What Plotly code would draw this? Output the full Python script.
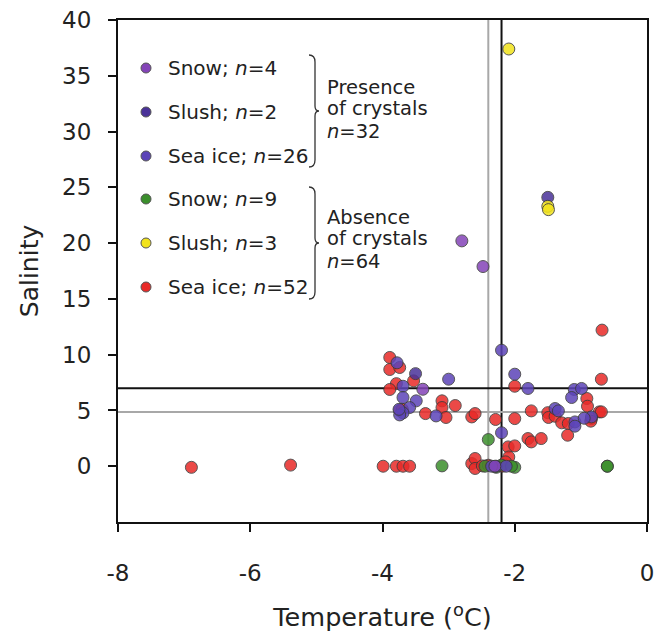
import plotly.graph_objects as go

# ---------------- data ----------------
snow_pres_x = [-2.80, -2.48, -3.39, -2.30]
snow_pres_y = [20.2, 17.9, 6.9, 0.0]

slush_pres_x = [-1.50, -3.50]
slush_pres_y = [24.1, 8.3]

seaice_pres_x = [-2.20, -2.00, -3.78, -3.00, -3.69, -3.69, -3.49, -3.59, -3.69, -3.19,
                 -1.80, -1.10, -0.99, -1.14, -1.39, -1.34, -1.09, -1.09, -0.84, -2.20,
                 -2.28, -2.13, -3.74, -2.35, -3.75, -0.95]
seaice_pres_y = [10.4, 8.25, 9.27, 7.8, 7.17, 6.16, 5.86, 5.26, 4.78, 4.51,
                 6.97, 6.88, 6.97, 6.16, 5.17, 4.96, 3.97, 3.59, 4.42, 3.0,
                 0.0, 0.0, 4.6, 0.0, 5.1, 4.3]

snow_abs_x = [-2.40, -3.10, -2.28, -2.00, -0.60, -0.60, -2.45, -2.20, -2.05]
snow_abs_y = [2.39, 0.03, -0.1, -0.1, 0.0, 0.0, 0.0, 0.1, 0.0]

slush_abs_x = [-2.09, -1.50, -1.49]
slush_abs_y = [37.4, 23.3, 23.0]

seaice_abs_x = [-0.68, -0.69, -3.89, -3.89, -3.74, -3.79, -3.89, -3.53, -3.74, -3.70,
                -3.35, -3.10, -3.10, -2.90, -3.04, -2.65, -2.60, -2.29, -2.00, -2.00,
                -1.75, -1.50, -1.49, -1.39, -1.29, -1.19, -1.20, -0.91, -0.90, -0.84,
                -0.85, -0.72, -0.69, -1.80, -1.75, -1.60, -2.10, -2.00, -2.09, -2.14,
                -3.99, -3.79, -3.69, -3.59, -2.65, -2.60, -2.60, -2.49, -2.40, -2.19,
                -6.89, -5.39]
seaice_abs_y = [12.2, 7.8, 9.75, 8.67, 8.85, 7.4, 6.88, 7.65, 5.0, 5.1,
                4.72, 5.86, 5.26, 5.44, 4.37, 4.42, 4.72, 4.19, 7.17, 4.27,
                4.96, 4.8, 4.37, 4.48, 3.89, 3.83, 2.78, 6.07, 5.38, 4.27,
                4.04, 4.87, 4.87, 2.48, 2.18, 2.48, 1.73, 1.82, 0.83, 0.39,
                0.0, 0.0, 0.0, 0.0, 0.24, 0.69, -0.2, 0.03, 0.09, 0.0,
                -0.1, 0.1]

threshold_temp_black = -2.2
threshold_temp_gray = -2.4
threshold_sal_black = 7.0
threshold_sal_gray = 4.85

legend_labels = ["Snow; <i>n</i>=4", "Slush; <i>n</i>=2", "Sea ice; <i>n</i>=26",
                 "Snow; <i>n</i>=9", "Slush; <i>n</i>=3", "Sea ice; <i>n</i>=52"]
group_labels = [["Presence", "of crystals", "<i>n</i>=32"],
                ["Absence", "of crystals", "<i>n</i>=64"]]

x_ticks = [-8, -6, -4, -2, 0]
x_tick_text = ["-8", "-6", "-4", "-2", "0"]
y_ticks = [0, 5, 10, 15, 20, 25, 30, 35, 40]

# ---------------- styling ----------------
colors = ["#8444b8", "#4a3299", "#5c44b8", "#3b8f2c", "#f2e31c", "#e82a28"]
series = [(snow_pres_x, snow_pres_y), (slush_pres_x, slush_pres_y),
          (seaice_pres_x, seaice_pres_y), (snow_abs_x, snow_abs_y),
          (slush_abs_x, slush_abs_y), (seaice_abs_x, seaice_abs_y)]
draw_order = [5, 3, 2, 1, 0, 4]

W, H = 654, 641
L, R, T, B = 118, 7, 20, 119
PW, PH = W - L - R, H - T - B
FONT = "DejaVu Sans"
TXT = "#222222"


def px(x):
    return (x - L) / PW


def py(y):
    return (H - B - y) / PH


fig = go.Figure()
for i in draw_order:
    xs, ys = series[i]
    fig.add_trace(go.Scatter(
        x=xs, y=ys, mode="markers", showlegend=False,
        marker=dict(size=12, color=colors[i], opacity=0.85,
                    line=dict(color="#3a3a3a", width=1)),
    ))

shapes = []
# reference lines
for xv, c in [(threshold_temp_gray, "#a8a8a8"), (threshold_temp_black, "#111111")]:
    shapes.append(dict(type="line", xref="x", yref="y", x0=xv, x1=xv, y0=-5, y1=40,
                       line=dict(color=c, width=2), layer="below"))
for yv, c in [(threshold_sal_gray, "#a8a8a8"), (threshold_sal_black, "#111111")]:
    shapes.append(dict(type="line", xref="x", yref="y", x0=-8, x1=0, y0=yv, y1=yv,
                       line=dict(color=c, width=2), layer="below"))

annotations = []
# custom legend
leg_y = [68, 112, 156, 199, 243, 287]
for i, (lab, yy) in enumerate(zip(legend_labels, leg_y)):
    shapes.append(dict(type="circle", xref="paper", yref="paper",
                       xsizemode="pixel", ysizemode="pixel",
                       xanchor=px(146), yanchor=py(yy),
                       x0=-5, x1=5, y0=-5, y1=5,
                       fillcolor=colors[i], line=dict(color="#555555", width=1)))
    annotations.append(dict(xref="paper", yref="paper", x=px(166), y=py(yy),
                            xanchor="left", yanchor="middle", showarrow=False,
                            text=lab, font=dict(family=FONT, size=20, color=TXT)))


def brace(top, bot, x0=309, x1=315, x2=319):
    mid = (top + bot) / 2
    pts = (f"M {px(x0)},{py(top)} Q {px(x1)},{py(top)} {px(x1)},{py(top + 7)} "
           f"L {px(x1)},{py(mid - 5)} Q {px(x1)},{py(mid)} {px(x2)},{py(mid)} "
           f"Q {px(x1)},{py(mid)} {px(x1)},{py(mid + 5)} "
           f"L {px(x1)},{py(bot - 7)} Q {px(x1)},{py(bot)} {px(x0)},{py(bot)}")
    return dict(type="path", xref="paper", yref="paper", path=pts,
                line=dict(color="#333333", width=1.3))


shapes.append(brace(55, 167))
shapes.append(brace(187, 299))
for lines, ys in zip(group_labels, [[87, 109, 131], [217, 239, 261]]):
    for t, yy in zip(lines, ys):
        annotations.append(dict(xref="paper", yref="paper", x=px(325), y=py(yy),
                                xanchor="left", yanchor="middle", showarrow=False,
                                text=t, font=dict(family=FONT, size=19.5, color=TXT)))

axis_common = dict(showgrid=False, zeroline=False, showline=True, linecolor="#111111",
                   linewidth=2, mirror=True, ticks="outside", ticklen=8, tickwidth=2,
                   tickcolor="#111111", automargin=False, ticklabeloverflow="allow",
                   tickfont=dict(family=FONT, size=23, color=TXT))

fig.update_layout(
    width=W, height=H,
    margin=dict(l=L, r=R, t=T, b=B),
    paper_bgcolor="white", plot_bgcolor="white",
    shapes=shapes, annotations=annotations,
    xaxis=dict(range=[-8, 0], tickvals=x_ticks, ticktext=x_tick_text,
               ticklabelstandoff=21,
               title=dict(text="Temperature (<sup>o</sup>C)", standoff=24,
                          font=dict(family=FONT, size=25.5, color=TXT)),
               **axis_common),
    yaxis=dict(range=[-5, 40], tickvals=y_ticks, ticklabelstandoff=12,
               title=dict(text="Salinity", standoff=16,
                          font=dict(family=FONT, size=25, color=TXT)),
               **axis_common),
)

fig.write_html("out.html")
